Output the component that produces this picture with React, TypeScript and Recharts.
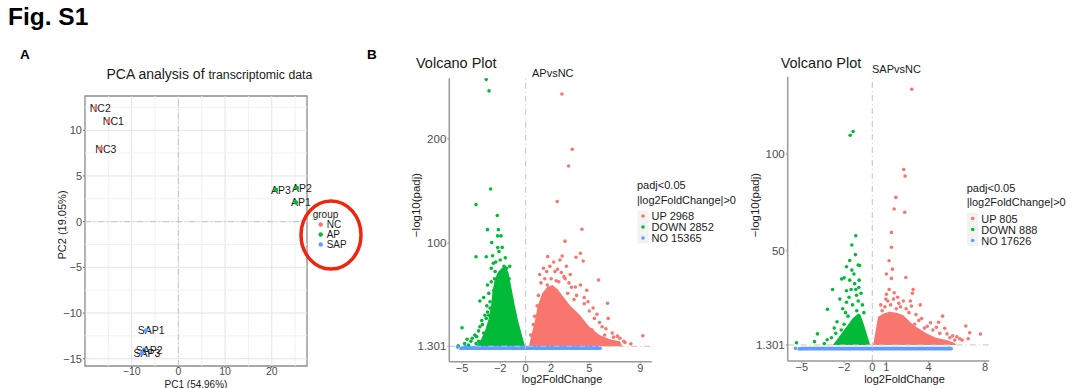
import { ComposedChart, ScatterChart, Scatter, Area, XAxis, YAxis, ReferenceLine, ReferenceArea } from 'recharts';

const FONT = '"Liberation Sans", Arial, Helvetica, sans-serif';
const RED = '#F8766D';
const GREEN = '#00BA38';
const BLUE = '#619CFF';

// ---- panel A: PCA ----
const ncSamples = [
  { name: 'NC1', x: -15.0, y: 11.0 },
  { name: 'NC2', x: -17.8, y: 12.4 },
  { name: 'NC3', x: -16.6, y: 8.0 },
];
const apSamples = [
  { name: 'AP1', x: 25.2, y: 2.1 },
  { name: 'AP2', x: 25.4, y: 3.7 },
  { name: 'AP3', x: 20.9, y: 3.5 },
];
const sapSamples = [
  { name: 'SAP1', x: -6.9, y: -11.9 },
  { name: 'SAP2', x: -7.3, y: -14.0 },
  { name: 'SAP3', x: -7.8, y: -14.4 },
];
const pcaXTicks = [-10, 0, 10, 20];
const pcaYTicks = [-15, -10, -5, 0, 5, 10];
const pcaGridX = [-15, -10, -5, 0, 5, 10, 15, 20, 25];
const pcaGridY = [-15, -12.5, -10, -7.5, -5, -2.5, 0, 2.5, 5, 7.5, 10, 12.5];

// ---- panel B: volcano AP vs NC ----
const apDownCore = [
  [-3.9, 1.3], [-3.5, 8], [-3.2, 16], [-2.9, 28], [-2.7, 42], [-2.6, 54], [-2.45, 64], [-2.2, 72],
  [-1.9, 76], [-1.6, 78], [-1.35, 72], [-1.1, 56], [-0.85, 40], [-0.6, 26], [-0.3, 12], [-0.05, 1.3],
];
const apUpCore = [
  [0.25, 1.3], [0.45, 12], [0.7, 24], [0.95, 40], [1.3, 52], [1.7, 58], [2.1, 60], [2.5, 56],
  [3.0, 48], [3.5, 40], [4.2, 32], [5.0, 20], [5.8, 12], [6.6, 8], [7.4, 6], [7.6, 1.3],
];
const apNoBand = [[-5.2, 0.8], [-4.8, 1.8], [5.4, 1.8], [5.8, 0.6]];
const apDownPts = [
  [-3.1, 257], [-2.88, 246], [-2.75, 152], [-3.9, 137], [-2.23, 126.5], [-3.0, 113], [-2.15, 113],
  [-2.2, 107], [-1.94, 107], [-2.67, 100.6], [-2.2, 95.8], [-1.85, 96], [-2.1, 92], [-3.9, 87], [-3.1, 87],
  [-2.6, 88], [-1.6, 86], [-2.0, 84], [-2.35, 82], [-2.54, 80.8], [-1.25, 78], [-1.5, 76], [-1.7, 78],
  [-2.7, 76], [-2.4, 72.8], [-2.7, 63], [-2.45, 66], [-1.3, 66], [-2.15, 60], [-2.5, 55], [-3.0, 60],
  [-2.3, 50], [-3.3, 48], [-2.9, 52], [-3.6, 44.7], [-2.8, 44], [-3.05, 40], [-2.8, 38], [-2.6, 35],
  [-3.0, 34], [-3.2, 31], [-3.1, 28], [-2.9, 31], [-3.45, 26], [-3.4, 22], [-3.6, 20], [-3.7, 16],
  [-3.3, 14], [-5.0, 19], [-4.0, 12], [-3.85, 10.5], [-4.2, 9], [-4.6, 8], [-4.3, 6], [-3.7, 6],
  [-4.8, 4], [-4.5, 2.5], [-5.3, 1.8], [-3.9, 4],
];
const apUpPts = [
  [2.85, 243], [3.66, 190], [3.37, 174], [2.48, 140], [4.42, 113.4], [3.09, 102], [4.3, 90.4], [2.87, 87.8],
  [1.73, 87.2], [3.95, 86.6], [2.69, 84], [4.52, 83], [2.2, 82], [1.9, 78], [3.2, 78], [1.4, 76], [2.5, 75],
  [2.3, 72.8], [1.65, 72.8], [2.8, 72], [1.1, 70], [3.5, 70], [3.0, 68], [2.0, 66], [1.5, 66], [3.1, 66],
  [5.73, 64.8], [2.4, 64], [1.2, 62], [2.6, 63], [3.4, 62], [4.3, 60], [1.7, 60], [3.9, 58], [3.6, 57.8],
  [4.8, 55], [3.3, 52], [4.0, 50], [1.0, 50], [4.6, 48], [3.8, 46], [4.9, 44], [4.6, 42], [6.43, 42.5],
  [0.9, 40], [5.3, 38], [5.0, 35], [5.6, 32], [0.7, 30], [5.4, 28], [6.48, 28], [5.8, 24], [0.6, 22],
  [6.0, 20], [6.3, 18], [5.2, 17], [6.8, 14], [6.2, 12], [0.4, 12], [7.2, 11], [6.9, 10], [7.4, 9],
  [9.2, 11.4], [7.7, 6], [7.8, 5], [8.26, 3.6],
];
const apNoPts = [[-5.35, 0.5], [-5.05, -0.8], [-4.75, 1.0], [5.6, 0.3], [5.85, -0.6]];
const apXTicks = [-5, -2, 0, 2, 5, 9];
const apYTicks = [1.301, 100, 200];

// ---- panel B: volcano SAP vs NC ----
const sapDownCore = [
  [-2.8, 1.3], [-2.43, 4.7], [-1.83, 10.7], [-1.4, 15], [-1.0, 17.6], [-0.85, 17], [-0.6, 12],
  [-0.35, 6], [-0.15, 1.3],
];
const sapUpCore = [
  [0.06, 1.3], [0.25, 9], [0.41, 15.9], [0.8, 17.5], [1.24, 18.5], [1.7, 18], [2.18, 16.8],
  [2.9, 11.6], [3.84, 7.3], [4.5, 5], [5.26, 3.8], [5.8, 2.5], [6.0, 1.3],
];
const sapNoBand = [[-5.3, 0.0], [-5.0, 0.4], [5.3, 0.4], [5.6, 0.0]];
const sapDownPts = [
  [-1.36, 111.7], [-1.57, 109.7], [-1.17, 57.8], [-1.45, 53], [-1.2, 48], [-1.6, 45], [-1.0, 42.6], [-0.9, 42.4],
  [-1.83, 41.7], [-1.45, 40], [-1.3, 38], [-2.0, 36], [-2.18, 35.4], [-1.6, 34.8], [-0.93, 34.8], [-1.25, 33],
  [-0.95, 31], [-2.82, 30], [-1.5, 30], [-1.83, 29.3], [-1.17, 30], [-0.8, 28], [-1.12, 27], [-1.65, 26],
  [-2.3, 25], [-1.0, 24], [-1.83, 23.4], [-0.7, 22], [-1.4, 22], [-2.1, 20], [-3.18, 19.7], [-1.1, 19],
  [-0.6, 18], [-1.9, 18], [-1.72, 16.2], [-2.5, 13.3], [-2.0, 12], [-2.7, 10], [-2.2, 9], [-2.59, 7.3],
  [-3.89, 7], [-2.9, 5], [-3.2, 4], [-4.1, 3], [-3.4, 2], [-5.38, 2.4],
];
const sapUpPts = [
  [2.8, 133.5], [2.23, 92], [2.33, 88.6], [1.67, 77.6], [1.55, 71.6], [2.3, 69.9], [1.36, 59.5], [1.36, 51.8],
  [1.19, 44.8], [1.43, 40.5], [1.0, 38], [1.36, 35.7], [2.38, 36.2], [1.2, 30], [2.9, 30], [1.55, 28.3],
  [2.85, 28], [1.0, 27.5], [1.8, 26], [0.96, 25], [1.5, 25], [1.1, 24], [2.2, 24], [2.7, 24], [1.88, 22.8],
  [3.4, 22], [0.6, 22], [1.3, 22], [2.78, 21.4], [0.9, 21], [2.0, 21], [1.7, 20], [2.4, 20], [0.7, 19],
  [2.6, 18], [3.1, 17], [4.98, 16.2], [3.5, 15], [3.3, 14], [4.7, 13], [4.13, 12.8], [3.0, 12], [3.9, 11],
  [6.63, 11.1], [4.55, 10.4], [3.7, 10], [5.14, 9.9], [4.3, 9], [6.91, 7.6], [4.79, 7.3], [5.3, 7],
  [7.67, 6.9], [5.7, 6], [6.0, 5.5], [5.5, 5], [4.0, 5], [6.2, 4.5], [6.8, 4.5], [5.85, 3.8], [6.37, 3.8],
];
const sapNoPts = [[-5.45, -0.4], [-5.1, -0.7], [5.45, -0.3], [5.6, -0.6]];
const sapXTicks = [-5, -2, 0, 1, 4, 8];
const sapYTicks = [1.301, 50, 100];

const toPts = (arr: number[][]) => arr.map(([x, y]) => ({ x, y }));
const buildRows = (down: number[][], up: number[][], no: number[][]) =>
  [
    ...down.map(([x, v]) => ({ x, down: v })),
    ...up.map(([x, v]) => ({ x, up: v })),
    ...no.map(([x, v]) => ({ x, no: v })),
  ].sort((a, b) => a.x - b.x);

const minus = (v: number) => (v < 0 ? '\u2212' + Math.abs(v) : String(v));

const dot = (color: string) => (p: any) => <circle cx={p.cx} cy={p.cy} r={1.8} fill={color} />;

const sampleDot = (color: string) => (p: any) => (
  <g>
    <text x={p.cx + 5} y={p.cy} textAnchor="middle" dominantBaseline="central" fontSize={10.5} fontFamily={FONT} fill="#1a1a1a">
      {p.payload?.name}
    </text>
    <circle cx={p.cx} cy={p.cy} r={2.2} fill={color} />
  </g>
);

const PcaChart = () => {
  const tick = { fontSize: 10.5, fill: '#4d4d4d', fontFamily: FONT };
  return (
    <ScatterChart width={370} height={388} margin={{ top: 96, right: 63, bottom: 4, left: 55 }}>
      <XAxis type="number" dataKey="x" domain={[-20, 27.55]} ticks={pcaXTicks} axisLine={false}
        tickLine={{ stroke: '#666' }} tickSize={2} tickMargin={0} height={18} tick={tick} tickFormatter={minus} />
      <YAxis type="number" dataKey="y" domain={[-15.8, 13.75]} ticks={pcaYTicks} axisLine={false}
        tickLine={{ stroke: '#666' }} tickSize={2} tickMargin={1} width={30} tick={{ ...tick, fontSize: 11 }} tickFormatter={minus} />
      {pcaGridX.map((v) => (
        <ReferenceLine key={'gx' + v} x={v} stroke={v % 10 === 0 ? '#e4e4e4' : '#f1f1f1'} strokeWidth={1} />
      ))}
      {pcaGridY.map((v) => (
        <ReferenceLine key={'gy' + v} y={v} stroke={v % 5 === 0 ? '#e4e4e4' : '#f1f1f1'} strokeWidth={1} />
      ))}
      <ReferenceLine x={0} stroke="#c4c4c4" strokeDasharray="6 3 1 3" />
      <ReferenceLine y={0} stroke="#c4c4c4" strokeDasharray="6 3 1 3" />
      <ReferenceArea x1={-20} x2={27.55} y1={-15.8} y2={13.75} fill="none" fillOpacity={0} stroke="#8c8c8c" strokeWidth={1.3} ifOverflow="visible" />
      <Scatter data={ncSamples} shape={sampleDot(RED)} isAnimationActive={false} />
      <Scatter data={apSamples} shape={sampleDot(GREEN)} isAnimationActive={false} />
      <Scatter data={sapSamples} shape={sampleDot(BLUE)} isAnimationActive={false} />
    </ScatterChart>
  );
};

type VolcanoProps = {
  rows: any[];
  down: { x: number; y: number }[];
  up: { x: number; y: number }[];
  no: { x: number; y: number }[];
  xDomain: number[];
  yDomain: number[];
  xTicks: number[];
  yTicks: number[];
  width: number;
  margin: { top: number; right: number; bottom: number; left: number };
  noBase: number;
};

const Volcano = ({ rows, down, up, no, xDomain, yDomain, xTicks, yTicks, width, margin, noBase }: VolcanoProps) => {
  const tick = { fontSize: 11, fill: '#4d4d4d', fontFamily: FONT };
  return (
    <ComposedChart width={width} height={388} data={rows} margin={margin}>
      <XAxis type="number" dataKey="x" domain={xDomain} allowDataOverflow ticks={xTicks}
        axisLine={{ stroke: '#999', strokeWidth: 1.5 }} tickLine={{ stroke: '#999' }} tickSize={2} tickMargin={0}
        height={20} tick={tick} tickFormatter={minus} />
      <YAxis type="number" dataKey="y" domain={yDomain} allowDataOverflow ticks={yTicks}
        axisLine={{ stroke: '#999', strokeWidth: 1.5 }} tickLine={{ stroke: '#999' }} tickSize={2} tickMargin={1}
        width={40} tick={{ ...tick, fontSize: 11.5 }} />
      <Area dataKey="down" type="linear" baseValue={1.301} stroke="none" fill={GREEN} fillOpacity={1} connectNulls
        dot={false} activeDot={false} isAnimationActive={false} />
      <Area dataKey="up" type="linear" baseValue={1.301} stroke="none" fill={RED} fillOpacity={1} connectNulls
        dot={false} activeDot={false} isAnimationActive={false} />
      <Area dataKey="no" type="linear" baseValue={noBase} stroke="none" fill={BLUE} fillOpacity={1} connectNulls
        dot={false} activeDot={false} isAnimationActive={false} />
      <ReferenceLine x={0} stroke="#c4c4c4" strokeDasharray="6 3 1 3" />
      <ReferenceLine y={1.301} stroke="#c4c4c4" strokeDasharray="6 3 1 3" />
      <Scatter data={down} shape={dot(GREEN)} isAnimationActive={false} />
      <Scatter data={up} shape={dot(RED)} isAnimationActive={false} />
      <Scatter data={no} shape={dot(BLUE)} isAnimationActive={false} />
    </ComposedChart>
  );
};

const VolcanoLegend = ({ x, y, counts }: { x: number; y: number; counts: string[] }) => (
  <g fontFamily={FONT} fontSize={11} fill="#1a1a1a">
    <text x={x} y={y} dominantBaseline="central">padj&lt;0.05</text>
    <text x={x} y={y + 14.5} dominantBaseline="central">|log2FoldChange|&gt;0</text>
    {[RED, GREEN, BLUE].map((c, i) => (
      <g key={c}>
        <rect x={x + 0.5} y={y + 25.5 + i * 11} width={11} height={11} fill="#f2f2f2" />
        <circle cx={x + 6} cy={y + 31 + i * 11} r={1.8} fill={c} />
        <text x={x + 14.5} y={y + 31 + i * 11} dominantBaseline="central">{counts[i]}</text>
      </g>
    ))}
  </g>
);

const App = () => {
  return (
    <div style={{ position: 'absolute', left: 0, top: 0, width: 1080, height: 388, background: '#fff', overflow: 'hidden' }}>
      <div style={{ position: 'absolute', left: 0, top: 0 }}>
        <PcaChart />
      </div>
      <div style={{ position: 'absolute', left: 370, top: 0 }}>
        <Volcano rows={buildRows(apDownCore, apUpCore, apNoBand)} down={toPts(apDownPts)} up={toPts(apUpPts)}
          no={toPts(apNoPts)} xDomain={[-6, 9.9]} yDomain={[-13.5, 258]} xTicks={apXTicks} yTicks={apYTicks}
          width={360} margin={{ top: 78.3, right: 78.3, bottom: 6.3, left: 39.3 }} noBase={-2.2} />
      </div>
      <div style={{ position: 'absolute', left: 730, top: 0 }}>
        <Volcano rows={buildRows(sapDownCore, sapUpCore, sapNoBand)} down={toPts(sapDownPts)} up={toPts(sapUpPts)}
          no={toPts(sapNoPts)} xDomain={[-6, 8.3]} yDomain={[-7, 140]} xTicks={sapXTicks} yTicks={sapYTicks}
          width={350} margin={{ top: 76.7, right: 90.7, bottom: 7, left: 17.7 }} noBase={-1.6} />
      </div>
      <svg width={1080} height={388} style={{ position: 'absolute', left: 0, top: 0, pointerEvents: 'none' }}>
        <g fontFamily={FONT} fill="#000">
          <text x={8} y={25} fontSize={24.5} fontWeight="bold">Fig. S1</text>
          <text x={20} y={58.5} fontSize={13.5} fontWeight="bold">A</text>
          <text x={367} y={58.5} fontSize={13.5} fontWeight="bold">B</text>

          <text x={106.5} y={79} fontSize={14} fill="#1a1a1a">
            PCA analysis of <tspan fontSize={12.3}>transcriptomic data</tspan>
          </text>
          <text x={196} y={387.5} fontSize={10} textAnchor="middle" fill="#1a1a1a">PC1 (54.96%)</text>
          <text transform="translate(62,225) rotate(-90)" fontSize={11} textAnchor="middle" dominantBaseline="central" fill="#1a1a1a">PC2 (19.05%)</text>

          <g fontSize={10} fill="#1a1a1a">
            <text x={312.7} y={214} dominantBaseline="central">group</text>
            <circle cx={320.7} cy={224.5} r={2.2} fill={RED} />
            <text x={326.7} y={224.5} dominantBaseline="central">NC</text>
            <circle cx={320.7} cy={234.5} r={2.2} fill={GREEN} />
            <text x={326.7} y={234.5} dominantBaseline="central">AP</text>
            <circle cx={320.7} cy={244.5} r={2.2} fill={BLUE} />
            <text x={326.7} y={244.5} dominantBaseline="central">SAP</text>
          </g>
          <ellipse cx={331} cy={235} rx={30} ry={34} fill="none" stroke="#F0250E" strokeWidth={3.5} />

          <text x={416} y={68.3} fontSize={14.5} fill="#1a1a1a">Volcano Plot</text>
          <text x={532} y={76.7} fontSize={11} fill="#1a1a1a">APvsNC</text>
          <text transform="translate(416,205) rotate(-90)" fontSize={11.5} textAnchor="middle" dominantBaseline="central" fill="#1a1a1a">{'\u2212log10(padj)'}</text>
          <text x={562} y={383} fontSize={11} textAnchor="middle" fill="#1a1a1a">log2FoldChange</text>
          <VolcanoLegend x={637} y={185} counts={['UP 2968', 'DOWN 2852', 'NO 15365']} />

          <text x={780.7} y={68.3} fontSize={14.5} fill="#1a1a1a">Volcano Plot</text>
          <text x={872} y={72.7} fontSize={11} fill="#1a1a1a">SAPvsNC</text>
          <text transform="translate(755,205) rotate(-90)" fontSize={11.5} textAnchor="middle" dominantBaseline="central" fill="#1a1a1a">{'\u2212log10(padj)'}</text>
          <text x={904.5} y={383} fontSize={11} textAnchor="middle" fill="#1a1a1a">log2FoldChange</text>
          <VolcanoLegend x={966.7} y={187.5} counts={['UP 805', 'DOWN 888', 'NO 17626']} />
        </g>
      </svg>
    </div>
  );
};

export default App;
